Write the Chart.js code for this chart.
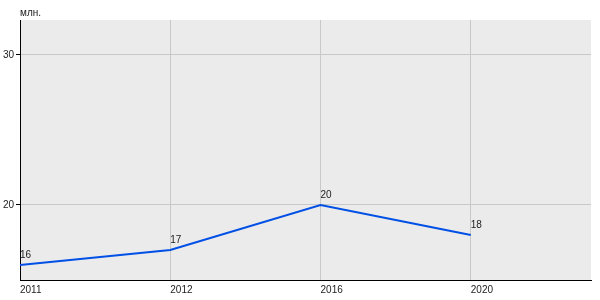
<!DOCTYPE html>
<html>
<head>
<meta charset="utf-8">
<script src="https://cdn.jsdelivr.net/npm/chart.js@4"></script>
<style>
  html, body { margin: 0; padding: 0; background: #fff; }
  #wrap { width: 600px; height: 300px; }
</style>
</head>
<body>
<div id="wrap"><canvas id="chart"></canvas></div>
<script>
const years = ['2011', '2012', '2016', '2020'];
const values = [16, 17, 20, 18];
const yTicks = [20, 30];
const unitLabel = 'млн.';

const FONT = '"Liberation Sans", Arial, sans-serif';

// grey plot background + unit label + value labels
const decor = {
  id: 'decor',
  beforeDraw(chart) {
    const { ctx, chartArea: a } = chart;
    ctx.save();
    ctx.fillStyle = '#ebebeb';
    ctx.fillRect(a.left, a.top, a.right - a.left, a.bottom - a.top);
    ctx.restore();
  },
  afterDatasetsDraw(chart) {
    const { ctx, chartArea: a } = chart;
    ctx.save();
    ctx.font = '10px ' + FONT;
    ctx.fillStyle = '#222';
    ctx.textAlign = 'left';
    ctx.textBaseline = 'alphabetic';
    ctx.fillText(unitLabel, a.left, a.top - 4);
    const meta = chart.getDatasetMeta(0);
    meta.data.forEach((pt, i) => {
      ctx.fillText(String(values[i]), pt.x, pt.y - 7);
    });
    ctx.restore();
  }
};

const ctx = document.getElementById('chart').getContext('2d');
new Chart(ctx, {
  type: 'line',
  data: {
    datasets: [{
      data: values.map((v, i) => ({ x: i, y: v })),
      borderColor: '#0050e6',
      borderWidth: 2,
      pointRadius: 0,
      tension: 0,
      fill: false
    }]
  },
  options: {
    responsive: true,
    maintainAspectRatio: false,
    animation: false,
    layout: { padding: { top: 20, right: 9, left: 0, bottom: 0 } },
    plugins: { legend: { display: false }, tooltip: { enabled: false } },
    scales: {
      x: {
        type: 'linear',
        min: 0,
        max: 3.8,
        afterBuildTicks(scale) { scale.ticks = years.map((y, i) => ({ value: i })); },
        afterFit(scale) { scale.height = 20; },
        border: { color: '#000', width: 1 },
        grid: { color: '#c8c8c8', drawTicks: false },
        ticks: {
          align: 'start',
          padding: 4,
          color: '#222',
          font: { family: FONT, size: 10 },
          callback: v => years[v]
        }
      },
      y: {
        min: 15,
        max: 32.33,
        afterBuildTicks(scale) { scale.ticks = yTicks.map(v => ({ value: v })); },
        afterFit(scale) { scale.width = 20; },
        border: { color: '#000', width: 1 },
        grid: { color: '#c8c8c8', tickColor: '#000', tickLength: 4 },
        ticks: {
          padding: 2,
          color: '#222',
          font: { family: FONT, size: 10 }
        }
      }
    }
  },
  plugins: [decor]
});
</script>
</body>
</html>
